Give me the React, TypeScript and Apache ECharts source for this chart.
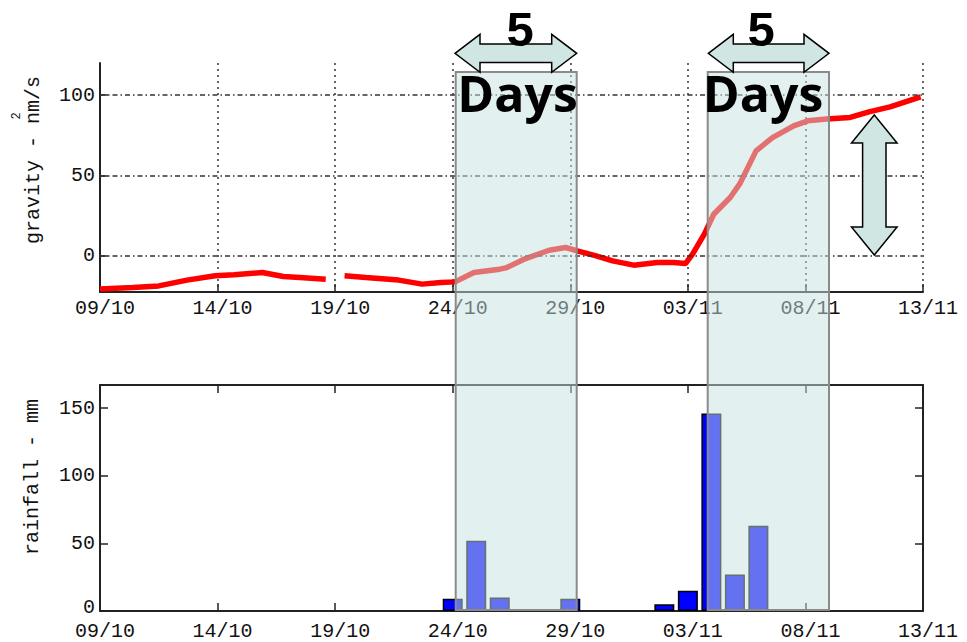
import React, { useEffect, useRef } from "react";
import * as echarts from "echarts";

// ---- data ----
const tickLabels = ["09/10", "14/10", "19/10", "24/10", "29/10", "03/11", "08/11", "13/11"];
const gravityDays = [0, 1.4, 2.5, 3.7, 4.9, 5.7, 6.9, 7.8, 8.5, 9.6, 9.9, 10.4, 11.3, 12.7, 13.7, 14.5, 15.1, 15.9, 17.0, 17.3, 18.1, 19.1, 19.8, 20.3, 21.1, 21.8, 22.7, 23.7, 24.4, 24.9, 25.2, 25.7, 26.1, 26.8, 27.2, 27.9, 28.6, 29.5, 30.1, 30.9, 31.9, 32.7, 33.6, 34.9];
const gravityValues = [-20.7, -19.7, -18.7, -15.1, -12.4, -11.8, -10.4, -12.9, -13.5, -14.5, null, -12.4, -13.5, -15.1, -17.6, -16.6, -16.2, -10.4, -8.3, -7.3, -1.7, 3.5, 5.2, 3.1, 0, -3.1, -5.8, -4.2, -4.2, -4.8, 1.1, 13.5, 25.9, 36.3, 44.6, 65.3, 73.6, 80.9, 84.0, 85.1, 86.1, 89.6, 92.7, 98.9];
const gravityTicks = [0, 50, 100];
const rainDays = [15, 16, 17, 20, 24, 25, 26, 27, 28];
const rainValues = [9, 52, 10, 9, 5, 15, 146, 27, 63];
const gravityName = "gravity - nm/s";
const rainName = "rainfall - mm";

const mono = "'Liberation Mono', 'DejaVu Sans Mono', monospace";
const bold = "'Open Sans', 'Noto Sans', sans-serif";
const boldDigit = "'Liberation Sans', Arial, sans-serif";
const axisColor = "#222";

function hArrow(L: number, R: number, cy: number) {
  const hl = 25, hh = 19, sh = 9.3;
  return [
    [L, cy], [L + hl, cy - hh], [L + hl, cy - sh], [R - hl, cy - sh], [R - hl, cy - hh],
    [R, cy], [R - hl, cy + hh], [R - hl, cy + sh], [L + hl, cy + sh], [L + hl, cy + hh],
  ];
}
function vArrow(cx: number, T: number, B: number) {
  const hl = 28, hw = 22.8, sw = 11.7;
  return [
    [cx, T], [cx + hw, T + hl], [cx + sw, T + hl], [cx + sw, B - hl], [cx + hw, B - hl],
    [cx, B], [cx - hw, B - hl], [cx - sw, B - hl], [cx - sw, T + hl], [cx - hw, T + hl],
  ];
}

export default function App() {
  const ref = useRef<HTMLDivElement>(null);
  useEffect(() => {
    if (!ref.current) return;
    const chart = echarts.init(ref.current, null, { renderer: "svg" });
    const labelStyle = { fontFamily: mono, fontSize: 20, lineHeight: 16, color: "#111" };
    const tickFmt = (v: number) => tickLabels[Math.round(v / 5)] ?? "";
    const axLine = { show: true, onZero: false, lineStyle: { color: axisColor, width: 2 } };
    const axTick = { show: true, inside: true, length: 8, lineStyle: { color: axisColor, width: 1.5 } };
    const arrowStyle = { fill: "#d0e6e3", stroke: "#000", lineWidth: 1.5 };
    const overlayStyle = { fill: "rgba(200,225,225,0.5)", stroke: "#8a8a8a", lineWidth: 2 };
    const bigText = (text: string, x: number, y: number, size: number, family: string) => ({
      type: "text", x, y, z: 120,
      style: { text, fontFamily: family, fontWeight: "bold", fontSize: size, fill: "#000", align: "center", verticalAlign: "middle" },
    });

    const option: any = {
      animation: false,
      backgroundColor: "#fff",
      grid: [
        { left: 100, top: 63, width: 823, height: 229 },
        { left: 100, top: 385, width: 823, height: 226 },
      ],
      xAxis: [
        {
          gridIndex: 0, type: "value", min: 0, max: 35, interval: 5, position: "bottom",
          axisLine: axLine, axisTick: axTick,
          axisLabel: { ...labelStyle, margin: 8, padding: [0, 0, 0, 10], formatter: tickFmt },
          splitLine: { show: true, lineStyle: { color: "#333", width: 1.5, type: [2, 4] } },
        },
        {
          gridIndex: 1, type: "value", min: 0, max: 35, interval: 5, position: "bottom",
          axisLine: axLine, axisTick: axTick,
          axisLabel: { ...labelStyle, margin: 12, padding: [0, 0, 0, 10], formatter: tickFmt },
          splitLine: { show: false },
        },
        {
          gridIndex: 1, type: "value", min: 0, max: 35, interval: 5, position: "top",
          axisLine: axLine, axisTick: axTick, axisLabel: { show: false }, splitLine: { show: false },
        },
      ],
      yAxis: [
        {
          gridIndex: 0, type: "value", min: -22.5, max: 120, position: "left",
          axisLine: axLine, axisTick: { ...axTick, customValues: gravityTicks },
          axisLabel: { ...labelStyle, margin: 5, customValues: gravityTicks },
          splitLine: { show: false },
        },
        {
          gridIndex: 1, type: "value", min: 0, max: 167, interval: 50, position: "left",
          axisLine: axLine, axisTick: axTick,
          axisLabel: {
            ...labelStyle, margin: 5, showMaxLabel: false,
            formatter: (v: number) => (v === 0 ? "{z|0}" : String(v)),
            rich: { z: { fontFamily: mono, fontSize: 20, color: "#111", padding: [0, 0, 8, 0] } },
          },
          splitLine: { show: false },
        },
        {
          gridIndex: 1, type: "value", min: 0, max: 167, interval: 50, position: "right",
          axisLine: axLine, axisTick: axTick, axisLabel: { show: false }, splitLine: { show: false },
        },
      ],
      series: [
        {
          type: "line", xAxisIndex: 0, yAxisIndex: 0,
          data: gravityDays.map((d, i) => [d, gravityValues[i]]),
          showSymbol: false, symbol: "none", connectNulls: false,
          lineStyle: { color: "#ff0000", width: 5.5 },
          z: 3,
          markLine: {
            silent: true, symbol: ["none", "none"], label: { show: false },
            lineStyle: { color: "#333", width: 1.5, type: [5, 3, 1.5, 3] },
            data: gravityTicks.map((v) => ({ yAxis: v })),
          },
        },
        {
          type: "bar", xAxisIndex: 1, yAxisIndex: 1,
          data: rainDays.map((d, i) => [d, rainValues[i]]),
          barWidth: 20,
          itemStyle: { color: "#0000ff", borderColor: "#000", borderWidth: 1.5 },
        },
      ],
      graphic: [
        { type: "rect", z: 100, shape: { x: 455.7, y: 72, width: 121, height: 538 }, style: overlayStyle },
        { type: "rect", z: 100, shape: { x: 707.7, y: 72, width: 121.3, height: 538 }, style: overlayStyle },
        { type: "polygon", z: 110, shape: { points: hArrow(455, 576.7, 53.3) }, style: arrowStyle },
        { type: "polygon", z: 110, shape: { points: hArrow(708.3, 829, 53.3) }, style: arrowStyle },
        { type: "polygon", z: 110, shape: { points: vArrow(874.3, 115, 255) }, style: arrowStyle },
        bigText("5", 520, 28.5, 49, boldDigit),
        bigText("Days", 517.5, 92.5, 50, bold),
        bigText("5", 761, 28.5, 49, boldDigit),
        bigText("Days", 763, 92.5, 50, bold),
        {
          type: "text", x: 33, y: 160, rotation: Math.PI / 2, z: 50,
          style: { text: gravityName, fontFamily: mono, fontSize: 20, fill: "#111", align: "center", verticalAlign: "middle" },
        },
        {
          type: "text", x: 17, y: 116, rotation: Math.PI / 2, z: 50,
          style: { text: "2", fontFamily: mono, fontSize: 12, fill: "#111", align: "center", verticalAlign: "middle" },
        },
        {
          type: "text", x: 32, y: 477, rotation: Math.PI / 2, z: 50,
          style: { text: rainName, fontFamily: mono, fontSize: 20, fill: "#111", align: "center", verticalAlign: "middle" },
        },
      ],
    };
    chart.setOption(option);
    return () => chart.dispose();
  }, []);
  return <div ref={ref} style={{ position: "fixed", left: 0, top: 0, width: 967, height: 642 }} />;
}
